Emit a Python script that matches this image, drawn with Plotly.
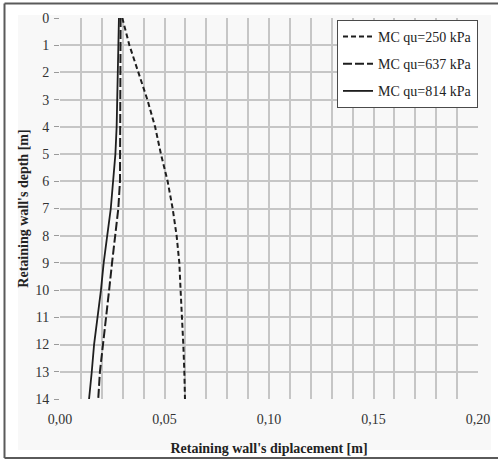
import plotly.graph_objects as go

depth = [0, 1, 2, 3, 4, 5, 6, 7, 8, 9, 10, 11, 12, 13, 14]
disp_250 = [0.0298, 0.0332, 0.0375, 0.0418, 0.0455, 0.0483, 0.0515, 0.0539,
            0.0558, 0.0571, 0.0577, 0.0585, 0.0590, 0.0595, 0.0598]
disp_637 = [0.0290, 0.0290, 0.0290, 0.0290, 0.0290, 0.0290, 0.0287, 0.0279,
            0.0263, 0.0249, 0.0235, 0.0220, 0.0204, 0.0191, 0.0183]
disp_814 = [0.0282, 0.0280, 0.0277, 0.0274, 0.0271, 0.0265, 0.0255, 0.0243,
            0.0226, 0.0209, 0.0196, 0.0179, 0.0163, 0.0152, 0.0139]
series_names = ["MC qu=250 kPa", "MC qu=637 kPa", "MC qu=814 kPa"]
x_tick_vals = [0.00, 0.05, 0.10, 0.15, 0.20]
x_tick_text = ["0,00", "0,05", "0,10", "0,15", "0,20"]
y_tick_vals = list(range(0, 15))

FONT = "Liberation Serif, Times New Roman, serif"
LINE = "#1e1e1e"
GRID = "#c6c6c6"

fig = go.Figure()
styles = [("5px,3px", 2.0), ("9px,3px", 2.0), ("solid", 1.8)]
for name, xs, (dash, w), grp in zip(series_names, [disp_250, disp_637, disp_814],
                                    styles, ["a", "b", "c"]):
    fig.add_trace(go.Scatter(
        x=xs, y=depth, mode="lines", name=name, legendgroup=grp,
        line=dict(color=LINE, width=w, dash=dash),
    ))

W, H = 498, 460
L, R, T, B = 60, 20, 18, 61
pw, ph = W - L - R, H - T - B


def px_x(p):
    return (p - L) / pw


def px_y(p):
    return (H - B - p) / ph


shapes = [
    # light chart area
    dict(type="rect", xref="paper", yref="paper", layer="below",
         x0=px_x(18), x1=px_x(491), y0=px_y(450), y1=px_y(15),
         fillcolor="#f8f8f8", line=dict(width=0, color="rgba(0,0,0,0)")),
    # outer frame (left, top, bottom edges)
    dict(type="line", xref="paper", yref="paper", layer="below",
         x0=px_x(4.5), x1=px_x(4.5), y0=px_y(458), y1=px_y(3.5),
         line=dict(color="#5a5a5a", width=2)),
    dict(type="line", xref="paper", yref="paper", layer="below",
         x0=px_x(4.5), x1=px_x(498), y0=px_y(3.5), y1=px_y(3.5),
         line=dict(color="#5a5a5a", width=2)),
    dict(type="line", xref="paper", yref="paper", layer="below",
         x0=px_x(4.5), x1=px_x(498), y0=px_y(458), y1=px_y(458),
         line=dict(color="#5a5a5a", width=2)),
]

fig.update_layout(
    width=W, height=H,
    margin=dict(l=L, r=R, t=T, b=B, autoexpand=False),
    paper_bgcolor="white",
    plot_bgcolor="#f8f8f8",
    separators=",.",
    font=dict(family=FONT, size=14, color="#333333"),
    showlegend=True,
    legend=dict(
        x=1.0, xanchor="right", y=0.995, yanchor="top",
        bgcolor="white", bordercolor="#4a4a4a", borderwidth=1,
        font=dict(family=FONT, size=14, color="#222222"),
        tracegroupgap=6, itemwidth=30,
    ),
    shapes=shapes,
    xaxis=dict(
        range=[0, 0.2], tickvals=x_tick_vals, ticktext=x_tick_text,
        automargin=False,
        showgrid=True, gridcolor=GRID, gridwidth=1.6,
        minor=dict(dtick=0.01, showgrid=True, gridcolor=GRID, gridwidth=1.6),
        zeroline=False, showline=False, ticks="", ticklabelstandoff=10,
        title=dict(text="<b>Retaining wall's diplacement [m]</b>",
                   font=dict(family=FONT, size=14, color="#222222"), standoff=17),
    ),
    yaxis=dict(
        range=[14, 0], tickvals=y_tick_vals,
        automargin=False,
        showgrid=True, gridcolor=GRID, gridwidth=1.6,
        zeroline=False, showline=False,
        ticks="outside", ticklen=5, tickcolor="#9a9a9a", tickwidth=1,
        ticklabelstandoff=2,
        title=dict(text="<b>Retaining wall's depth [m]</b>",
                   font=dict(family=FONT, size=14, color="#222222"), standoff=3),
    ),
)

fig.write_html("out.html",
               config={"displayModeBar": False},
               post_script="document.body.style.margin='0';")
